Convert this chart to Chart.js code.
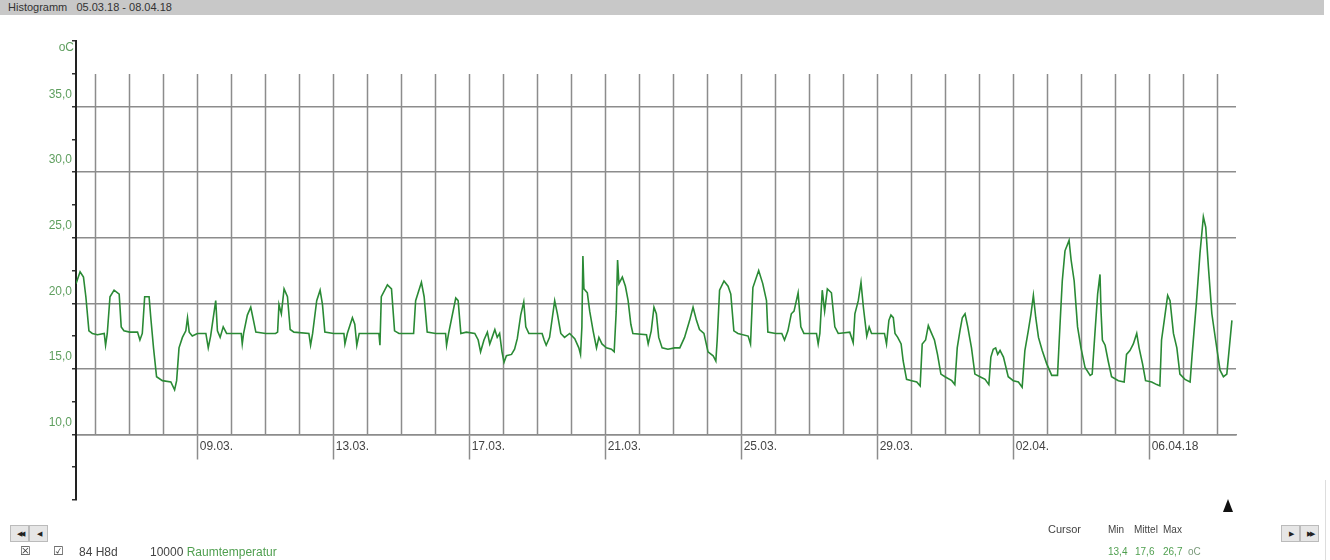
<!DOCTYPE html>
<html lang="de">
<head>
<meta charset="UTF-8">
<title>Histogramm Raumtemperatur</title>
<style>
    body {
        margin: 0;
        width: 1330px;
        height: 560px;
        position: relative;
        overflow: hidden;
        background: #ffffff;
        font-family: Arial, "Liberation Sans", sans-serif;
    }
    #tempChart {
        position: absolute;
        left: 0;
        top: 0;
    }
    .titlebar {
        position: absolute;
        left: 0;
        top: 0;
        width: 1324px;
        height: 15px;
        padding-left: 8px;
        box-sizing: border-box;
        background: #c8c8c8;
        color: #333;
        font-size: 11px;
        line-height: 15px;
    }
    .unit {
        position: absolute;
        left: 56px;
        top: 40px;
        width: 18px;
        text-align: right;
        color: #5f9f5f;
        font-size: 12px;
    }
    .txt {
        position: absolute;
        font-size: 12px;
        color: #444;
        white-space: nowrap;
    }
    .small { font-size: 10px; }
    .green { color: #4f9f4f; }
    .btn {
        position: absolute;
        width: 17px;
        height: 15px;
        border: 1px solid #bbb;
        background: #e6e6e6;
        font-size: 7px;
        line-height: 15px;
        text-align: center;
        color: #222;
        letter-spacing: -2px;
    }
    .marker {
        position: absolute;
        left: 1223px;
        top: 499px;
        width: 0;
        height: 0;
        border-left: 5px solid transparent;
        border-right: 5px solid transparent;
        border-bottom: 13px solid #111;
    }
    .sep {
        position: absolute;
        left: 1325px;
        top: 480px;
        width: 1px;
        height: 80px;
        background: #ddd;
    }
</style>
</head>
<body>
<canvas id="tempChart" width="1330" height="560"></canvas>

<div class="titlebar">Histogramm&nbsp;&nbsp; 05.03.18 - 08.04.18</div>
<div class="unit">oC</div>

<div class="marker"></div>
<div class="sep"></div>

<div class="btn" style="left:10px; top:525px;">◀◀</div>
<div class="btn" style="left:29px; top:525px;">◀</div>
<div class="btn" style="left:1281px; top:525px;">▶</div>
<div class="btn" style="left:1300px; top:525px;">▶▶</div>

<div class="txt" style="left:20px; top:544px; font-family:'DejaVu Sans';">☒</div>
<div class="txt" style="left:53px; top:544px; font-family:'DejaVu Sans';">☑</div>
<div class="txt" style="left:79px; top:545px;">84 H8d</div>
<div class="txt" style="left:150px; top:545px;">10000 <span class="green">Raumtemperatur</span></div>

<div class="txt" style="left:1048px; top:523px; font-size:11px;">Cursor</div>
<div class="txt small" style="left:1108px; top:524px;">Min</div>
<div class="txt small" style="left:1134px; top:524px;">Mittel</div>
<div class="txt small" style="left:1163px; top:524px;">Max</div>
<div class="txt small green" style="left:1108px; top:546px;">13,4</div>
<div class="txt small green" style="left:1135px; top:546px;">17,6</div>
<div class="txt small green" style="left:1163px; top:546px;">26,7</div>
<div class="txt small" style="left:1188px; top:546px; color:#7a9a7a;">oC</div>

<script src="https://cdn.jsdelivr.net/npm/chart.js"></script>
<script>
    // Zeit in Tagen ab 05.03.18 00:00
    const days = [
        0.42, 0.54, 0.64, 0.71, 0.80, 0.90, 1.05, 1.25, 1.29, 1.34,
        1.42, 1.54, 1.69, 1.75, 1.83, 2.00, 2.23, 2.30, 2.37, 2.44,
        2.57, 2.62, 2.70, 2.79, 2.96, 3.21, 3.32, 3.38, 3.45, 3.55,
        3.65, 3.70, 3.75, 3.84, 3.99, 4.24, 4.31, 4.38, 4.53, 4.58,
        4.66, 4.75, 4.85, 5.10, 5.28, 5.31, 5.35, 5.46, 5.56, 5.64,
        5.71, 6.00, 6.29, 6.35, 6.39, 6.46, 6.54, 6.64, 6.72, 6.83,
        7.27, 7.32, 7.38, 7.50, 7.60, 7.67, 7.74, 8.00, 8.30, 8.33,
        8.40, 8.55, 8.62, 8.68, 8.75, 9.00, 9.33, 9.36, 9.40, 9.58,
        9.70, 9.79, 9.92, 10.35, 10.41, 10.58, 10.66, 10.75, 11.00, 11.29,
        11.32, 11.38, 11.59, 11.66, 11.74, 11.90, 12.15, 12.25, 12.32, 12.42,
        12.52, 12.59, 12.66, 12.74, 12.81, 12.88, 12.95, 13.01, 13.08, 13.23,
        13.32, 13.40, 13.50, 13.59, 13.65, 13.74, 14.13, 14.19, 14.25, 14.35,
        14.50, 14.58, 14.68, 14.79, 14.94, 15.09, 15.21, 15.26, 15.30, 15.33,
        15.36, 15.46, 15.53, 15.63, 15.73, 15.80, 15.89, 16.02, 16.17, 16.25,
        16.31, 16.35, 16.39, 16.49, 16.58, 16.66, 16.74, 16.80, 17.20, 17.25,
        17.34, 17.42, 17.49, 17.56, 17.66, 17.83, 18.03, 18.18, 18.32, 18.47,
        18.57, 18.67, 18.76, 18.89, 19.01, 19.16, 19.24, 19.28, 19.35, 19.48,
        19.60, 19.68, 19.77, 19.89, 20.19, 20.26, 20.33, 20.50, 20.62, 20.73,
        20.77, 21.00, 21.18, 21.26, 21.36, 21.46, 21.54, 21.66, 21.74, 21.83,
        22.20, 22.25, 22.30, 22.37, 22.44, 22.52, 22.64, 22.74, 22.84, 23.18,
        23.28, 23.33, 23.43, 23.51, 23.58, 23.68, 23.75, 23.82, 24.20, 24.26,
        24.33, 24.39, 24.46, 24.51, 24.59, 24.69, 24.75, 24.85, 25.00, 25.15,
        25.25, 25.31, 25.41, 25.49, 25.57, 25.67, 25.76, 25.86, 25.98, 26.18,
        26.27, 26.34, 26.42, 26.49, 26.57, 26.65, 26.76, 26.86, 27.01, 27.16,
        27.27, 27.33, 27.40, 27.47, 27.53, 27.60, 27.70, 27.84, 27.99, 28.14,
        28.25, 28.33, 28.43, 28.51, 28.58, 28.65, 28.73, 28.84, 28.97, 29.12,
        29.29, 29.36, 29.43, 29.51, 29.63, 29.69, 29.78, 29.88, 29.98, 30.10,
        30.25, 30.31, 30.39, 30.47, 30.54, 30.57, 30.61, 30.69, 30.78, 30.88,
        31.08, 31.25, 31.32, 31.42, 31.52, 31.62, 31.69, 31.79, 31.88, 32.06,
        32.21, 32.30, 32.35, 32.43, 32.53, 32.60, 32.70, 32.80, 32.89, 33.04,
        33.19, 33.25, 33.38, 33.48, 33.58, 33.65, 33.73, 33.83, 33.94, 34.07,
        34.17, 34.27, 34.42
    ];

    // Raumtemperatur in °C
    const temps = [
        21.5, 22.4, 22.0, 20.5, 17.9, 17.7, 17.6, 17.7, 16.8, 17.7,
        20.5, 21.0, 20.7, 18.2, 17.9, 17.8, 17.8, 17.2, 17.7, 20.5,
        20.5, 18.9, 16.6, 14.4, 14.1, 14.0, 13.4, 14.1, 16.6, 17.4,
        17.9, 18.9, 17.8, 17.5, 17.7, 17.7, 16.6, 17.5, 20.2, 17.9,
        17.4, 18.2, 17.7, 17.7, 17.7, 16.9, 17.7, 19.1, 19.7, 18.7,
        17.8, 17.7, 17.7, 17.8, 19.9, 19.2, 21.1, 20.5, 18.0, 17.8,
        17.7, 16.8, 17.7, 20.2, 21.0, 19.9, 17.8, 17.7, 17.7, 16.9,
        17.7, 18.9, 18.4, 16.8, 17.7, 17.7, 17.7, 16.8, 20.5, 21.4,
        21.1, 17.9, 17.7, 17.7, 20.2, 21.6, 20.5, 17.8, 17.7, 17.7,
        16.8, 17.7, 20.4, 20.2, 17.7, 17.8, 17.7, 17.2, 16.3, 17.2,
        17.8, 16.9, 17.4, 18.0, 17.4, 17.7, 16.3, 15.5, 16.0, 16.1,
        16.5, 17.3, 19.1, 20.1, 18.2, 17.7, 17.7, 17.2, 16.8, 17.4,
        20.2, 19.2, 17.7, 17.4, 17.7, 17.3, 16.6, 16.1, 18.2, 23.6,
        21.1, 20.8, 19.4, 17.9, 16.6, 17.4, 16.9, 16.6, 16.5, 16.3,
        19.4, 23.3, 21.5, 22.0, 21.3, 20.2, 18.4, 17.7, 17.6, 16.9,
        17.9, 19.7, 19.2, 17.4, 16.6, 16.5, 16.6, 16.6, 17.4, 18.7,
        19.7, 18.7, 18.0, 17.7, 16.3, 16.0, 15.6, 17.2, 21.0, 21.7,
        21.3, 20.7, 17.9, 17.7, 17.5, 16.9, 21.2, 22.5, 21.5, 20.2,
        17.8, 17.7, 17.7, 17.2, 17.9, 19.2, 19.4, 20.8, 18.2, 17.7,
        17.7, 16.9, 17.7, 21.0, 19.4, 21.1, 20.8, 18.2, 17.7, 17.8,
        17.0, 19.2, 20.2, 21.6, 19.7, 17.5, 18.2, 17.7, 17.7, 16.9,
        18.7, 19.1, 18.9, 17.7, 17.4, 16.9, 15.6, 14.2, 14.1, 14.0,
        13.7, 16.9, 17.2, 18.3, 17.8, 17.2, 16.1, 14.6, 14.4, 14.1,
        13.8, 16.6, 17.9, 18.9, 19.2, 18.2, 16.6, 14.6, 14.4, 14.2,
        13.8, 15.9, 16.5, 16.6, 16.1, 16.4, 15.9, 14.4, 14.1, 14.0,
        13.6, 16.4, 17.9, 19.2, 20.6, 18.9, 17.4, 16.4, 15.4, 14.5,
        14.5, 18.2, 21.7, 24.0, 24.8, 23.3, 21.7, 18.2, 16.6, 15.1,
        14.5, 14.6, 17.7, 20.7, 22.2, 19.4, 17.2, 16.8, 15.6, 14.4,
        14.1, 14.0, 16.1, 16.4, 16.9, 17.7, 16.6, 15.4, 14.1, 14.0,
        13.8, 13.7, 17.2, 18.7, 20.6, 20.2, 17.7, 16.6, 14.6, 14.2,
        14.0, 16.1, 20.2, 23.8, 26.6, 25.8, 22.7, 19.2, 17.2, 14.9,
        14.4, 14.6, 18.7
    ];

    // senkrechte Tageslinien und beschriftete Tage
    const dayLines = [1, 2, 3, 4, 5, 6, 7, 8, 9, 10, 11, 12, 13, 14, 15, 16, 17,
        18, 19, 20, 21, 22, 23, 24, 25, 26, 27, 28, 29, 30, 31, 32, 33, 34];
    const labelDays = [4, 8, 12, 16, 20, 24, 28, 32];
    const dateLabels = ['09.03.', '13.03.', '17.03.', '21.03.', '25.03.', '29.03.', '02.04.', '06.04.18'];

    const xMin = 0.42;
    const xMax = 34.54;
    const gridColor = '#8c8c8c';
    const labelFont = { family: 'Arial, "Liberation Sans", sans-serif', size: 12 };

    function isMajor(v) {
        return v >= 10 && v <= 35 && Math.abs(v % 5) < 0.001;
    }

    const points = days.map((d, i) => ({ x: d, y: temps[i] }));

    const ctx = document.getElementById('tempChart').getContext('2d');
    new Chart(ctx, {
        type: 'line',
        data: {
            datasets: [{
                label: 'Raumtemperatur',
                data: points,
                borderColor: '#2a8a35',
                borderWidth: 1.6,
                pointRadius: 0,
                tension: 0,
                fill: false
            }]
        },
        options: {
            responsive: false,
            animation: false,
            events: [],
            layout: {
                padding: { left: 0, top: 41, right: 94, bottom: 60 }
            },
            plugins: {
                legend: { display: false },
                tooltip: { enabled: false }
            },
            scales: {
                x: {
                    type: 'linear',
                    min: xMin,
                    max: xMax,
                    position: { y: 10 },
                    afterBuildTicks: s => { s.ticks = labelDays.map(v => ({ value: v })); },
                    grid: {
                        drawOnChartArea: false,
                        drawTicks: true,
                        tickLength: 24,
                        tickColor: gridColor,
                        tickWidth: 1.5
                    },
                    border: { display: true, color: gridColor, width: 1.5 },
                    ticks: {
                        autoSkip: false,
                        maxRotation: 0,
                        align: 'start',
                        padding: -19,
                        labelOffset: 2,
                        color: '#444',
                        font: labelFont,
                        callback: (v, i) => dateLabels[i]
                    }
                },
                xDays: {
                    axis: 'x',
                    type: 'linear',
                    min: xMin,
                    max: xMax,
                    position: { y: 37.5 },
                    afterBuildTicks: s => { s.ticks = dayLines.map(v => ({ value: v })); },
                    grid: {
                        drawOnChartArea: false,
                        drawTicks: true,
                        tickLength: 360.6,
                        tickColor: gridColor,
                        tickWidth: 1.5
                    },
                    border: { display: false },
                    ticks: { display: false }
                },
                y: {
                    min: 5,
                    max: 40,
                    afterFit: s => { s.width = 76; },
                    ticks: {
                        stepSize: 2.5,
                        autoSkip: false,
                        padding: 0,
                        labelOffset: -12,
                        color: '#5f9f5f',
                        font: labelFont,
                        callback: v => isMajor(v) ? v.toFixed(1).replace('.', ',') : ''
                    },
                    grid: {
                        color: c => isMajor(c.tick.value) ? gridColor : 'rgba(0,0,0,0)',
                        lineWidth: 1.5,
                        tickLength: 4,
                        tickColor: '#333',
                        tickWidth: 1.5
                    },
                    border: { display: true, color: '#222', width: 2 }
                }
            }
        }
    });
</script>
</body>
</html>
